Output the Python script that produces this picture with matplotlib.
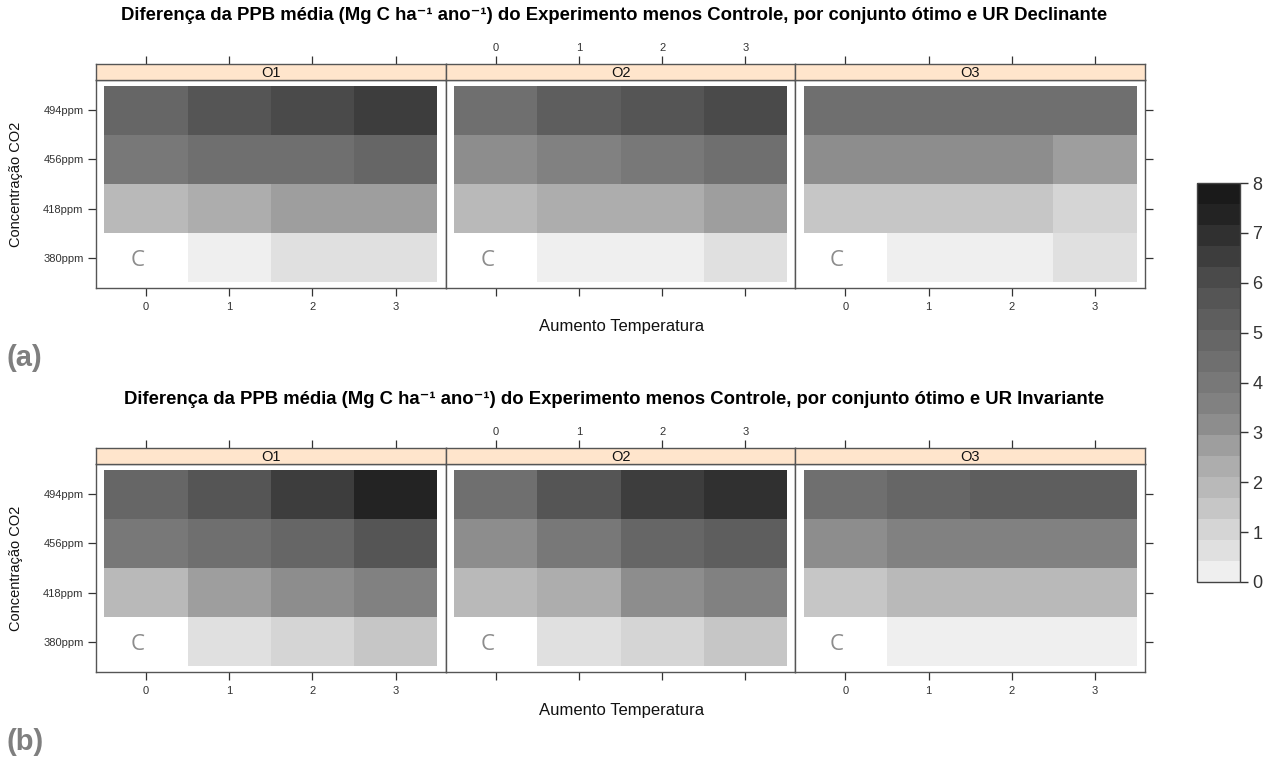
import numpy as np
import matplotlib
matplotlib.use("Agg")
import matplotlib.pyplot as plt
from matplotlib.colors import ListedColormap, BoundaryNorm
from matplotlib.cm import ScalarMappable

plt.rcParams['font.family'] = ['Liberation Sans', 'DejaVu Sans']

W, H = 1268, 762

temp_labels = ['0', '1', '2', '3']
co2_labels = ['380ppm', '418ppm', '456ppm', '494ppm']
set_names = ['O1', 'O2', 'O3']
nan = np.nan

# rows: 380, 418, 456, 494 ppm ; cols: +0..+3 C  (control cell = NaN)
dec_o1 = [[nan, 0.21, 0.63, 0.63],
          [1.89, 2.32, 2.74, 2.74],
          [4.00, 4.42, 4.42, 4.84],
          [4.84, 5.68, 6.11, 6.53]]
dec_o2 = [[nan, 0.21, 0.21, 0.63],
          [1.89, 2.32, 2.32, 2.74],
          [3.16, 3.58, 4.00, 4.42],
          [4.42, 5.26, 5.68, 6.11]]
dec_o3 = [[nan, 0.21, 0.21, 0.63],
          [1.47, 1.47, 1.47, 1.05],
          [3.16, 3.16, 3.16, 2.74],
          [4.42, 4.42, 4.42, 4.42]]

inv_o1 = [[nan, 0.63, 1.05, 1.47],
          [1.89, 2.74, 3.16, 3.58],
          [4.00, 4.42, 4.84, 5.68],
          [4.84, 5.68, 6.53, 7.37]]
inv_o2 = [[nan, 0.63, 1.05, 1.47],
          [1.89, 2.32, 3.16, 3.58],
          [3.16, 4.00, 4.84, 5.26],
          [4.42, 5.68, 6.53, 6.95]]
inv_o3 = [[nan, 0.21, 0.21, 0.21],
          [1.47, 1.89, 1.89, 1.89],
          [3.16, 3.58, 3.58, 3.58],
          [4.42, 4.84, 5.26, 5.26]]

titles = [
    'Diferença da PPB média (Mg C ha⁻¹ ano⁻¹) do Experimento menos Controle, por conjunto ótimo e UR Declinante',
    'Diferença da PPB média (Mg C ha⁻¹ ano⁻¹) do Experimento menos Controle, por conjunto ótimo e UR Invariante',
]
tags = ['(a)', '(b)']

# grey palette, light -> dark, 19 levels between 0 and 8
greys = [239, 224, 213, 198, 185, 173, 158, 141, 129, 120,
         111, 102, 94, 85, 74, 61, 48, 35, 26]
cmap = ListedColormap([(g / 255, g / 255, g / 255) for g in greys])
bounds = np.linspace(0, 8, 20)
norm = BoundaryNorm(bounds, cmap.N)


def rect(x0, y0, x1, y1):
    return [x0 / W, 1 - y1 / H, (x1 - x0) / W, (y1 - y0) / H]


fig = plt.figure(figsize=(W / 100, H / 100), dpi=100)

left, right = 96, 1145
pw = (right - left) / 3
edge = '#555555'

for r, data in enumerate([[dec_o1, dec_o2, dec_o3], [inv_o1, inv_o2, inv_o3]]):
    off = r * 384
    strip_top, panel_top, panel_bot = 64 + off, 80 + off, 288 + off
    for i in range(3):
        x0 = left + i * pw
        x1 = x0 + pw
        ax = fig.add_axes(rect(x0, panel_top, x1, panel_bot))
        z = np.ma.masked_invalid(np.array(data[i]))
        ax.pcolormesh(np.arange(-0.5, 4.0, 1), np.arange(-0.5, 4.0, 1), z,
                      cmap=cmap, norm=norm, edgecolors='none')
        ax.text(-0.1, -0.05, 'C', color='#8c8c8c', fontsize=16,
                family='Open Sans', ha='center', va='center')
        ax.set_xlim(-0.6, 3.6)
        ax.set_ylim(-0.62, 3.62)
        for s in ax.spines.values():
            s.set_color(edge)
            s.set_linewidth(1.0)
        ax.set_xticks(range(4))
        ax.tick_params(axis='x', direction='out', length=6, width=0.9,
                       colors='#333333', labelsize=8, pad=4)
        if i == 1:
            ax.set_xticklabels([])
        else:
            ax.set_xticklabels(temp_labels)
        ax.set_yticks(range(4))
        ax.tick_params(axis='y', direction='out', length=6, width=0.9,
                       colors='#333333', labelsize=8, pad=3)
        if i == 0:
            ax.set_yticklabels(co2_labels)
        elif i == 2:
            ax.yaxis.tick_right()
            ax.set_yticklabels([])
        else:
            ax.set_yticks([])

        # strip
        sax = fig.add_axes(rect(x0, strip_top, x1, panel_top))
        sax.set_facecolor('#ffe5cc')
        sax.set_xlim(-0.6, 3.6)
        sax.set_ylim(0, 1)
        sax.set_yticks([])
        sax.xaxis.tick_top()
        sax.set_xticks(range(4))
        sax.tick_params(axis='x', direction='out', length=6, width=0.9,
                        colors='#333333', labelsize=8, pad=2)
        if i == 1:
            sax.set_xticklabels(temp_labels)
        else:
            sax.set_xticklabels([])
        for s in sax.spines.values():
            s.set_color(edge)
            s.set_linewidth(1.0)
        sax.text(1.5, 0.45, set_names[i], ha='center', va='center',
                 fontsize=10.5, color='#111111')

    fig.text(614 / W, 1 - (16 + off) / H, titles[r], ha='center', va='center',
             fontsize=13.3, fontweight='bold')
    fig.text(622 / W, 1 - (326 + off) / H, 'Aumento Temperatura', ha='center',
             va='center', fontsize=12, color='#111111')
    fig.text(16 / W, 1 - (184 + off) / H, 'Concentração CO2', ha='center',
             va='center', rotation=90, fontsize=10.5, color='#111111')
    fig.text(7 / W, 1 - (358 + off) / H, tags[r], ha='left', va='center',
             fontsize=21, fontweight='bold', color='#7f7f7f')

# colour key
cax = fig.add_axes(rect(1197, 183, 1240, 582))
cb = fig.colorbar(ScalarMappable(norm=norm, cmap=cmap), cax=cax,
                  boundaries=bounds, ticks=range(9))
cb.minorticks_off()
cb.outline.set_edgecolor('#444444')
cb.outline.set_linewidth(1.0)
cax.tick_params(direction='out', length=6, width=1, labelsize=13,
                colors='#333333', pad=3)
cax.tick_params(which='minor', length=0)
cax.set_yticklabels([str(v) for v in range(9)])

fig.savefig('out.png', dpi=100)
